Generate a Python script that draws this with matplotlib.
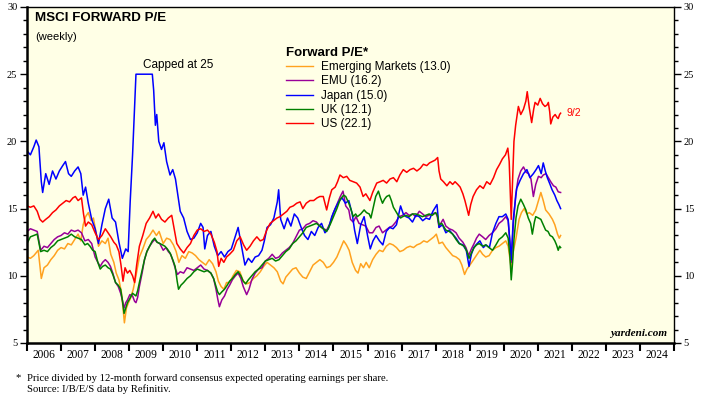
import matplotlib
matplotlib.use('Agg')
import matplotlib.pyplot as plt
from matplotlib.ticker import MultipleLocator, FixedLocator, NullFormatter

# weekly forward P/E (decimal years)
em_t = [2006.0, 2006.1, 2006.2, 2006.33, 2006.42, 2006.5, 2006.6, 2006.7, 2006.8, 2006.9, 2007.0, 2007.1, 2007.2, 2007.3, 2007.4, 2007.5, 2007.58, 2007.65, 2007.72, 2007.8, 2007.88, 2007.95, 2008.02, 2008.1, 2008.2, 2008.3, 2008.38, 2008.46, 2008.55, 2008.62, 2008.7, 2008.77, 2008.82, 2008.86, 2008.92, 2008.98, 2009.05, 2009.12, 2009.2, 2009.3, 2009.4, 2009.5, 2009.6, 2009.7, 2009.8, 2009.88, 2010.0, 2010.1, 2010.2, 2010.3, 2010.38, 2010.46, 2010.55, 2010.65, 2010.75, 2010.85, 2010.95, 2011.05, 2011.15, 2011.25, 2011.35, 2011.45, 2011.55, 2011.62, 2011.7, 2011.78, 2011.86, 2011.95, 2012.05, 2012.15, 2012.25, 2012.35, 2012.45, 2012.55, 2012.65, 2012.75, 2012.85, 2012.95, 2013.05, 2013.15, 2013.25, 2013.35, 2013.45, 2013.52, 2013.6, 2013.7, 2013.8, 2013.9, 2014.0, 2014.1, 2014.2, 2014.3, 2014.4, 2014.5, 2014.6, 2014.7, 2014.8, 2014.9, 2015.0, 2015.1, 2015.2, 2015.3, 2015.38, 2015.46, 2015.55, 2015.65, 2015.72, 2015.8, 2015.88, 2015.96, 2016.05, 2016.15, 2016.25, 2016.35, 2016.45, 2016.55, 2016.65, 2016.75, 2016.85, 2016.95, 2017.05, 2017.15, 2017.25, 2017.35, 2017.45, 2017.55, 2017.65, 2017.75, 2017.85, 2017.95, 2018.02, 2018.1, 2018.2, 2018.3, 2018.4, 2018.5, 2018.6, 2018.7, 2018.77, 2018.85, 2018.92, 2018.98, 2019.06, 2019.14, 2019.22, 2019.3, 2019.38, 2019.47, 2019.57, 2019.67, 2019.77, 2019.86, 2019.96, 2020.06, 2020.13, 2020.18, 2020.22, 2020.28, 2020.36, 2020.45, 2020.52, 2020.6, 2020.68, 2020.75, 2020.85, 2020.94, 2021.02, 2021.09, 2021.16, 2021.23, 2021.33, 2021.43, 2021.5, 2021.58, 2021.63, 2021.67]
em_v = [11.4, 11.3, 11.5, 11.9, 9.8, 10.6, 10.8, 11.2, 11.5, 11.9, 12.1, 12.0, 12.4, 12.3, 12.7, 13.1, 12.6, 13.8, 14.4, 14.7, 14.1, 14.3, 13.3, 12.2, 12.6, 12.4, 12.8, 11.6, 11.0, 10.2, 9.7, 8.8, 7.6, 6.5, 7.6, 8.0, 8.4, 9.0, 10.0, 11.4, 12.0, 12.7, 13.0, 13.4, 13.0, 13.3, 12.4, 12.8, 12.7, 12.3, 11.8, 11.0, 11.5, 11.3, 11.8, 11.7, 11.5, 11.2, 11.0, 10.8, 11.2, 10.9, 10.3, 9.6, 9.2, 9.0, 9.5, 9.5, 10.0, 10.4, 10.3, 9.6, 9.4, 9.5, 9.8, 10.0, 10.3, 10.7, 11.0, 10.8, 10.6, 10.3, 9.6, 9.4, 9.9, 10.2, 10.5, 10.6, 10.2, 9.9, 9.8, 10.3, 10.8, 11.0, 11.2, 11.0, 10.6, 10.7, 11.0, 11.4, 12.0, 12.6, 12.3, 11.9, 11.0, 10.4, 10.2, 10.9, 10.6, 11.0, 10.6, 11.2, 11.6, 11.9, 11.8, 12.2, 12.4, 12.3, 12.1, 11.8, 11.9, 12.1, 12.2, 12.1, 12.3, 12.4, 12.6, 12.5, 12.7, 12.9, 13.1, 12.4, 12.5, 12.1, 11.8, 11.5, 11.4, 11.2, 10.8, 10.1, 10.5, 10.7, 11.0, 11.3, 11.6, 11.9, 11.6, 11.4, 11.5, 11.9, 12.1, 12.2, 12.4, 12.6, 12.2, 11.3, 10.5, 11.8, 12.8, 14.2, 14.7, 15.0, 14.6, 14.7, 14.5, 14.9, 15.6, 16.2, 15.6, 14.9, 14.6, 14.2, 13.8, 13.1, 12.8, 13.0]

emu_t = [2006.0, 2006.1, 2006.2, 2006.3, 2006.4, 2006.5, 2006.6, 2006.7, 2006.8, 2006.9, 2007.0, 2007.1, 2007.2, 2007.3, 2007.4, 2007.5, 2007.6, 2007.7, 2007.8, 2007.9, 2008.0, 2008.08, 2008.15, 2008.22, 2008.3, 2008.38, 2008.45, 2008.52, 2008.6, 2008.68, 2008.75, 2008.8, 2008.85, 2008.9, 2008.95, 2009.02, 2009.1, 2009.16, 2009.2, 2009.25, 2009.3, 2009.38, 2009.45, 2009.52, 2009.6, 2009.68, 2009.75, 2009.82, 2009.9, 2010.0, 2010.08, 2010.15, 2010.22, 2010.3, 2010.36, 2010.42, 2010.5, 2010.6, 2010.7, 2010.8, 2010.9, 2011.0, 2011.1, 2011.2, 2011.3, 2011.4, 2011.48, 2011.55, 2011.6, 2011.65, 2011.72, 2011.8, 2011.88, 2011.95, 2012.03, 2012.12, 2012.2, 2012.28, 2012.35, 2012.45, 2012.52, 2012.6, 2012.7, 2012.8, 2012.9, 2013.0, 2013.1, 2013.2, 2013.3, 2013.4, 2013.5, 2013.6, 2013.7, 2013.8, 2013.9, 2014.0, 2014.1, 2014.2, 2014.3, 2014.4, 2014.5, 2014.6, 2014.7, 2014.8, 2014.9, 2015.0, 2015.1, 2015.2, 2015.28, 2015.36, 2015.45, 2015.5, 2015.58, 2015.66, 2015.75, 2015.85, 2015.95, 2016.05, 2016.15, 2016.25, 2016.34, 2016.44, 2016.54, 2016.64, 2016.73, 2016.83, 2016.93, 2017.03, 2017.13, 2017.22, 2017.32, 2017.42, 2017.52, 2017.62, 2017.71, 2017.8, 2017.9, 2018.0, 2018.05, 2018.1, 2018.15, 2018.22, 2018.3, 2018.4, 2018.5, 2018.6, 2018.69, 2018.8, 2018.89, 2018.97, 2019.05, 2019.13, 2019.2, 2019.28, 2019.38, 2019.47, 2019.57, 2019.67, 2019.77, 2019.86, 2019.96, 2020.06, 2020.13, 2020.18, 2020.22, 2020.28, 2020.35, 2020.42, 2020.5, 2020.58, 2020.66, 2020.73, 2020.8, 2020.87, 2020.94, 2021.02, 2021.1, 2021.16, 2021.24, 2021.31, 2021.38, 2021.46, 2021.53, 2021.6, 2021.67]
emu_v = [13.3, 13.5, 13.4, 13.3, 11.9, 12.2, 12.1, 12.4, 12.7, 12.9, 13.0, 13.2, 13.1, 13.4, 13.3, 13.4, 13.2, 12.6, 12.7, 12.4, 11.4, 11.0, 10.7, 11.0, 11.2, 11.0, 10.7, 10.2, 9.5, 9.2, 8.7, 8.2, 7.6, 8.0, 8.2, 8.6, 8.5, 8.1, 8.0, 8.4, 9.2, 10.2, 11.2, 11.8, 12.2, 12.5, 12.7, 12.5, 12.4, 11.9, 12.1, 11.8, 11.6, 11.0, 10.5, 10.1, 10.3, 10.2, 10.6, 10.5, 10.4, 10.6, 10.8, 10.5, 10.4, 10.2, 9.8, 9.0, 8.3, 7.7, 8.2, 8.5, 9.0, 9.3, 9.7, 10.0, 10.2, 9.8, 9.2, 8.6, 9.0, 9.7, 10.2, 10.5, 10.6, 11.1, 11.3, 11.6, 11.3, 11.4, 11.7, 11.9, 12.1, 12.4, 12.9, 13.4, 13.5, 13.8, 13.9, 14.1, 14.0, 13.7, 13.5, 13.4, 13.9, 14.7, 15.3, 15.9, 16.3, 15.2, 14.9, 14.2, 14.0, 14.4, 13.9, 13.8, 13.7, 13.2, 13.2, 13.6, 13.7, 13.2, 13.4, 13.6, 13.7, 14.0, 14.4, 14.5, 14.7, 14.5, 14.6, 14.4, 14.8, 14.6, 14.4, 14.5, 14.6, 14.7, 14.4, 13.6, 13.9, 14.2, 13.7, 13.5, 13.4, 13.2, 12.8, 12.5, 12.1, 11.5, 12.0, 12.4, 12.8, 13.1, 12.9, 12.7, 13.0, 13.2, 13.5, 13.9, 14.1, 14.4, 14.1, 12.5, 11.0, 13.8, 16.0, 17.2, 17.8, 18.1, 17.7, 17.6, 17.2, 15.9, 16.8, 17.4, 17.3, 17.5, 17.6, 17.3, 17.0, 16.7, 16.6, 16.25, 16.2]

japan_t = [2006.0, 2006.1, 2006.2, 2006.27, 2006.35, 2006.42, 2006.46, 2006.55, 2006.65, 2006.75, 2006.85, 2006.95, 2007.05, 2007.13, 2007.22, 2007.3, 2007.4, 2007.5, 2007.58, 2007.65, 2007.72, 2007.8, 2007.9, 2008.0, 2008.1, 2008.2, 2008.3, 2008.4, 2008.5, 2008.6, 2008.7, 2008.8, 2008.9, 2008.97, 2009.03, 2009.1, 2009.15, 2009.2, 2009.68, 2009.72, 2009.77, 2009.81, 2009.87, 2009.95, 2010.02, 2010.1, 2010.2, 2010.28, 2010.36, 2010.43, 2010.5, 2010.6, 2010.7, 2010.8, 2010.9, 2011.0, 2011.1, 2011.17, 2011.22, 2011.3, 2011.4, 2011.5, 2011.6, 2011.7, 2011.8, 2011.9, 2012.0, 2012.1, 2012.2, 2012.3, 2012.4, 2012.5, 2012.6, 2012.7, 2012.8, 2012.9, 2012.97, 2013.05, 2013.15, 2013.25, 2013.35, 2013.39, 2013.45, 2013.55, 2013.65, 2013.75, 2013.85, 2013.95, 2014.05, 2014.15, 2014.25, 2014.35, 2014.45, 2014.55, 2014.65, 2014.75, 2014.85, 2014.95, 2015.05, 2015.15, 2015.25, 2015.35, 2015.45, 2015.55, 2015.62, 2015.7, 2015.8, 2015.9, 2016.0, 2016.08, 2016.16, 2016.25, 2016.35, 2016.45, 2016.55, 2016.65, 2016.75, 2016.85, 2016.97, 2017.05, 2017.13, 2017.22, 2017.32, 2017.42, 2017.52, 2017.62, 2017.72, 2017.82, 2017.92, 2018.04, 2018.1, 2018.2, 2018.3, 2018.4, 2018.5, 2018.6, 2018.7, 2018.8, 2018.9, 2018.98, 2019.05, 2019.12, 2019.22, 2019.3, 2019.4, 2019.48, 2019.58, 2019.67, 2019.77, 2019.86, 2019.96, 2020.06, 2020.13, 2020.18, 2020.22, 2020.28, 2020.38, 2020.48, 2020.58, 2020.68, 2020.77, 2020.87, 2020.95, 2021.02, 2021.1, 2021.16, 2021.22, 2021.28, 2021.36, 2021.42, 2021.5, 2021.56, 2021.62, 2021.67]
japan_v = [19.3, 19.0, 19.6, 20.1, 19.6, 17.0, 16.2, 17.6, 16.8, 17.8, 17.2, 17.8, 18.2, 18.5, 17.6, 17.4, 17.8, 18.1, 17.6, 16.0, 16.6, 15.4, 14.2, 13.5, 12.4, 13.8, 15.0, 15.7, 14.3, 14.0, 12.5, 11.3, 12.0, 11.8, 15.5, 19.0, 22.0, 25.0, 25.0, 23.8, 21.2, 22.0, 20.0, 19.4, 19.9, 18.5, 17.5, 17.9, 17.2, 16.0, 14.8, 14.3, 13.3, 12.7, 12.8, 13.2, 13.9, 13.6, 12.0, 13.0, 13.3, 12.2, 11.5, 11.8, 11.4, 11.8, 12.0, 12.8, 13.6, 12.2, 10.8, 11.3, 11.0, 11.4, 11.5, 11.9, 12.6, 13.6, 13.8, 14.3, 15.5, 16.4, 14.2, 13.5, 14.3, 13.7, 14.6, 14.3, 13.6, 13.0, 12.7, 13.3, 13.0, 13.6, 13.9, 13.2, 13.5, 14.4, 15.0, 15.5, 15.8, 15.4, 15.6, 14.6, 13.4, 12.4, 13.8, 14.4, 13.0, 12.0, 12.6, 13.0, 12.6, 12.3, 13.3, 13.6, 13.5, 13.8, 15.2, 14.6, 14.4, 14.3, 14.0, 14.5, 14.4, 14.1, 14.3, 14.2, 14.8, 15.3, 13.6, 13.8, 13.2, 13.4, 13.1, 12.8, 12.4, 12.3, 11.9, 10.7, 11.6, 12.1, 12.4, 12.6, 12.1, 12.3, 12.1, 13.2, 13.9, 14.4, 14.4, 14.6, 14.2, 12.5, 11.2, 14.2, 16.5, 17.1, 17.6, 17.9, 17.3, 17.6, 17.9, 18.2, 17.6, 18.4, 17.8, 17.3, 16.8, 16.4, 16.0, 15.6, 15.3, 15.0]

uk_t = [2006.0, 2006.1, 2006.2, 2006.3, 2006.4, 2006.5, 2006.6, 2006.7, 2006.8, 2006.9, 2007.0, 2007.1, 2007.2, 2007.3, 2007.4, 2007.5, 2007.6, 2007.7, 2007.78, 2007.85, 2007.93, 2008.0, 2008.08, 2008.15, 2008.22, 2008.3, 2008.38, 2008.45, 2008.52, 2008.6, 2008.68, 2008.75, 2008.8, 2008.85, 2008.9, 2008.95, 2009.02, 2009.1, 2009.15, 2009.2, 2009.25, 2009.3, 2009.38, 2009.45, 2009.52, 2009.6, 2009.68, 2009.75, 2009.82, 2009.9, 2009.98, 2010.05, 2010.12, 2010.2, 2010.28, 2010.35, 2010.41, 2010.45, 2010.52, 2010.6, 2010.7, 2010.8, 2010.9, 2011.0, 2011.1, 2011.2, 2011.3, 2011.4, 2011.48, 2011.55, 2011.6, 2011.65, 2011.72, 2011.8, 2011.88, 2011.95, 2012.03, 2012.12, 2012.2, 2012.28, 2012.35, 2012.42, 2012.5, 2012.6, 2012.7, 2012.8, 2012.9, 2013.0, 2013.1, 2013.2, 2013.3, 2013.4, 2013.5, 2013.6, 2013.7, 2013.8, 2013.9, 2014.0, 2014.1, 2014.2, 2014.3, 2014.4, 2014.5, 2014.6, 2014.7, 2014.8, 2014.9, 2015.0, 2015.1, 2015.2, 2015.3, 2015.36, 2015.45, 2015.52, 2015.58, 2015.65, 2015.7, 2015.8, 2015.9, 2015.97, 2016.05, 2016.1, 2016.18, 2016.24, 2016.32, 2016.38, 2016.44, 2016.5, 2016.56, 2016.64, 2016.7, 2016.76, 2016.83, 2016.9, 2016.97, 2017.03, 2017.13, 2017.22, 2017.32, 2017.42, 2017.52, 2017.61, 2017.71, 2017.81, 2017.9, 2018.0, 2018.05, 2018.1, 2018.18, 2018.25, 2018.3, 2018.4, 2018.5, 2018.6, 2018.69, 2018.77, 2018.84, 2018.92, 2018.98, 2019.05, 2019.13, 2019.2, 2019.28, 2019.38, 2019.47, 2019.57, 2019.67, 2019.77, 2019.86, 2019.96, 2020.06, 2020.13, 2020.18, 2020.22, 2020.26, 2020.3, 2020.36, 2020.42, 2020.5, 2020.58, 2020.65, 2020.72, 2020.79, 2020.84, 2020.9, 2020.94, 2021.02, 2021.09, 2021.16, 2021.23, 2021.3, 2021.36, 2021.43, 2021.5, 2021.55, 2021.6, 2021.64, 2021.67]
uk_v = [12.4, 12.9, 13.0, 13.1, 11.8, 11.9, 11.8, 12.1, 12.3, 12.6, 12.7, 12.8, 12.9, 13.1, 12.9, 12.8, 12.7, 12.3, 12.4, 12.2, 11.9, 11.8, 11.0, 10.5, 10.7, 10.8, 10.6, 10.5, 10.1, 9.5, 9.3, 9.0, 8.2, 7.2, 7.6, 8.0, 8.3, 8.7, 8.6, 8.5, 8.9, 9.5, 10.4, 11.2, 11.8, 12.2, 12.6, 12.8, 12.5, 12.4, 12.3, 12.2, 12.0, 11.7, 11.2, 10.7, 9.6, 9.0, 9.3, 9.5, 9.8, 10.0, 10.3, 10.5, 10.4, 10.3, 10.4, 10.2, 9.8, 9.2, 8.8, 8.6, 8.8, 9.0, 9.3, 9.6, 9.8, 10.1, 10.3, 10.0, 9.6, 9.4, 9.7, 10.0, 10.3, 10.5, 10.8, 11.1, 11.2, 11.3, 11.1, 11.2, 11.5, 11.8, 12.0, 12.4, 12.6, 12.9, 13.2, 13.6, 13.7, 13.8, 13.9, 13.7, 13.5, 13.3, 13.8, 14.4, 15.0, 15.7, 16.0, 15.9, 15.4, 14.9, 14.4, 14.6, 14.4, 14.6, 14.9, 14.7, 14.6, 14.3, 15.2, 15.9, 16.3, 15.8, 15.4, 15.7, 15.9, 16.0, 15.6, 15.1, 14.8, 14.5, 14.3, 14.4, 14.5, 14.4, 14.6, 14.6, 14.5, 14.4, 14.5, 14.6, 14.5, 14.7, 14.5, 13.8, 13.9, 13.6, 13.4, 13.3, 13.1, 12.7, 12.4, 12.3, 12.2, 11.8, 11.3, 11.7, 12.1, 12.3, 12.4, 12.2, 12.3, 12.1, 11.9, 12.3, 12.7, 12.9, 13.2, 12.8, 11.5, 9.7, 11.0, 12.7, 14.3, 15.2, 15.7, 15.3, 14.9, 14.3, 13.9, 13.1, 14.0, 14.4, 14.3, 14.2, 13.8, 13.4, 13.3, 13.0, 12.9, 12.6, 12.3, 11.9, 12.2, 12.1]

us_t = [2006.0, 2006.1, 2006.2, 2006.3, 2006.38, 2006.46, 2006.55, 2006.65, 2006.75, 2006.85, 2006.95, 2007.05, 2007.15, 2007.25, 2007.35, 2007.42, 2007.5, 2007.6, 2007.66, 2007.72, 2007.8, 2007.9, 2008.0, 2008.1, 2008.2, 2008.3, 2008.38, 2008.46, 2008.55, 2008.62, 2008.7, 2008.76, 2008.82, 2008.88, 2008.95, 2009.02, 2009.1, 2009.16, 2009.22, 2009.3, 2009.4, 2009.5, 2009.6, 2009.7, 2009.78, 2009.86, 2009.95, 2010.05, 2010.15, 2010.25, 2010.33, 2010.4, 2010.5, 2010.6, 2010.7, 2010.8, 2010.9, 2011.0, 2011.1, 2011.2, 2011.3, 2011.4, 2011.5, 2011.58, 2011.63, 2011.7, 2011.78, 2011.86, 2011.95, 2012.06, 2012.16, 2012.26, 2012.36, 2012.45, 2012.55, 2012.65, 2012.75, 2012.85, 2012.94, 2013.04, 2013.14, 2013.24, 2013.34, 2013.43, 2013.53, 2013.63, 2013.72, 2013.82, 2013.92, 2014.02, 2014.1, 2014.2, 2014.31, 2014.42, 2014.52, 2014.6, 2014.7, 2014.8, 2014.88, 2014.95, 2015.05, 2015.12, 2015.19, 2015.29, 2015.39, 2015.48, 2015.58, 2015.68, 2015.78, 2015.87, 2015.95, 2016.07, 2016.15, 2016.27, 2016.37, 2016.46, 2016.56, 2016.66, 2016.76, 2016.86, 2016.95, 2017.05, 2017.15, 2017.25, 2017.35, 2017.45, 2017.55, 2017.64, 2017.74, 2017.82, 2017.9, 2017.98, 2018.06, 2018.1, 2018.15, 2018.23, 2018.33, 2018.42, 2018.5, 2018.57, 2018.65, 2018.72, 2018.8, 2018.86, 2018.92, 2018.97, 2019.03, 2019.1, 2019.2, 2019.3, 2019.4, 2019.5, 2019.6, 2019.7, 2019.79, 2019.88, 2019.96, 2020.05, 2020.12, 2020.16, 2020.2, 2020.22, 2020.26, 2020.3, 2020.35, 2020.43, 2020.5, 2020.58, 2020.65, 2020.69, 2020.75, 2020.82, 2020.88, 2020.92, 2021.0, 2021.07, 2021.14, 2021.21, 2021.27, 2021.31, 2021.35, 2021.38, 2021.44, 2021.51, 2021.56, 2021.6, 2021.64, 2021.67]
us_v = [15.2, 15.1, 15.2, 14.8, 14.2, 14.0, 14.2, 14.4, 14.7, 14.9, 15.2, 15.4, 15.6, 15.5, 15.8, 15.9, 15.6, 15.8, 14.6, 13.7, 14.0, 13.8, 13.2, 12.7, 13.0, 13.5, 13.2, 12.9, 12.5, 12.3, 11.8, 10.8, 9.6, 10.6, 10.2, 10.4, 10.0, 9.5, 10.8, 12.2, 13.0, 13.9, 14.3, 14.8, 14.3, 14.6, 14.2, 14.0, 14.3, 14.5, 13.4, 12.4, 12.0, 11.7, 12.1, 12.4, 13.0, 13.4, 13.5, 13.3, 13.4, 13.1, 12.5, 11.8, 10.7, 11.3, 11.0, 11.4, 11.6, 11.9, 12.6, 12.9, 12.3, 11.9, 12.2, 12.6, 12.9, 12.6, 12.7, 13.4, 13.9, 14.1, 14.3, 14.4, 14.6, 14.8, 15.1, 15.2, 15.4, 15.5, 15.0, 15.4, 15.6, 15.6, 15.8, 15.9, 15.9, 14.9, 15.8, 16.4, 16.6, 17.0, 17.5, 17.3, 17.4, 17.1, 17.0, 16.9, 16.6, 15.9, 16.1, 15.6, 16.2, 16.9, 17.0, 17.1, 16.9, 17.2, 17.3, 17.0, 17.5, 17.9, 17.7, 17.9, 18.0, 17.8, 18.0, 18.3, 18.2, 18.4, 18.5, 18.6, 18.8, 17.8, 17.2, 17.0, 16.7, 17.0, 16.8, 17.0, 16.8, 16.6, 16.1, 15.6, 15.0, 14.5, 15.3, 15.9, 16.4, 16.7, 16.5, 17.0, 16.8, 17.3, 17.9, 18.3, 18.7, 19.0, 19.5, 18.5, 15.5, 14.2, 17.0, 20.0, 21.2, 22.6, 22.0, 22.4, 23.0, 23.7, 22.5, 21.4, 22.4, 22.9, 22.7, 23.2, 22.8, 22.6, 22.7, 22.9, 22.2, 21.3, 21.8, 22.0, 21.8, 21.7, 22.0, 22.1]

labels = ['Emerging Markets (13.0)', 'EMU (16.2)', 'Japan (15.0)', 'UK (12.1)', 'US (22.1)']
colors = ['#FFA21F', '#990099', '#0000FF', '#008000', '#FF0000']
years = list(range(2006, 2025))

serif = 'Liberation Serif'
sans = 'Liberation Sans'

fig = plt.figure(figsize=(7.04, 3.97), dpi=100)
ax = fig.add_axes([27/704, 54/397, 647/704, 336/397])
ax.set_facecolor('#FFFFE6')

series = [(em_t, em_v), (emu_t, emu_v), (japan_t, japan_v), (uk_t, uk_v), (us_t, us_v)]
for (t, v), lab, c in zip(series, labels, colors):
    ax.plot(t, v, color=c, lw=1.1, label=lab)

ax.set_xlim(2006, 2025)
ax.set_ylim(5, 30)

ax.yaxis.set_major_locator(MultipleLocator(5))
ax.yaxis.set_minor_locator(MultipleLocator(1))
ax.tick_params(axis='y', which='both', direction='out', left=True, right=True,
               labelleft=True, labelright=True, width=1, labelsize=7.5, pad=2)
ax.tick_params(axis='y', which='major', length=5)
ax.tick_params(axis='y', which='minor', length=3)
for lab in ax.get_yticklabels():
    lab.set_fontfamily(serif)

ax.xaxis.set_major_locator(FixedLocator(years + [2025]))
ax.xaxis.set_major_formatter(NullFormatter())
ax.xaxis.set_minor_locator(FixedLocator([y + 0.5 for y in years]))
ax.set_xticklabels([str(y) for y in years], minor=True, fontfamily=serif, fontsize=8.3)
ax.tick_params(axis='x', which='major', direction='out', length=6, width=1.5)
ax.tick_params(axis='x', which='minor', length=0, pad=4)

for side in ['left', 'bottom']:
    ax.spines[side].set_linewidth(1.8)
for side in ['right', 'top']:
    ax.spines[side].set_linewidth(1.0)

ax.text(0.012, 0.985, 'MSCI FORWARD P/E', transform=ax.transAxes, fontfamily=sans,
        fontweight='bold', fontsize=9.6, va='top')
ax.text(0.012, 0.925, '(weekly)', transform=ax.transAxes, fontfamily=sans,
        fontsize=8, va='top')
ax.text(2010.43, 25.7, 'Capped at 25', fontfamily=sans, fontsize=8.5, ha='center', va='center')
ax.text(2021.85, 22.1, '9/2', color='#FF0000', fontfamily=sans, fontsize=7.5, va='center')
ax.text(0.99, 0.015, 'yardeni.com', transform=ax.transAxes, fontfamily=serif,
        fontweight='bold', fontstyle='italic', fontsize=8, ha='right', va='bottom')

leg = ax.legend(loc='upper left', bbox_to_anchor=(0.4, 0.882), frameon=False,
                title='Forward P/E*', alignment='left',
                labelspacing=0.2, handlelength=2.3, handletextpad=0.7,
                borderaxespad=0, borderpad=0,
                prop={'family': sans, 'size': 8.5},
                title_fontproperties={'family': sans, 'weight': 'bold', 'size': 9.5})
for h in leg.get_lines():
    h.set_linewidth(1.0)

fig.text(15/704, 1 - 378/397, '*', fontfamily=serif, fontsize=7.7, va='center')
fig.text(27/704, 1 - 378/397, 'Price divided by 12-month forward consensus expected operating earnings per share.',
         fontfamily=serif, fontsize=7.7, va='center')
fig.text(27/704, 1 - 389/397, 'Source: I/B/E/S data by Refinitiv.', fontfamily=serif, fontsize=7.7, va='center')

fig.savefig('out.png', dpi=100, facecolor='white')
